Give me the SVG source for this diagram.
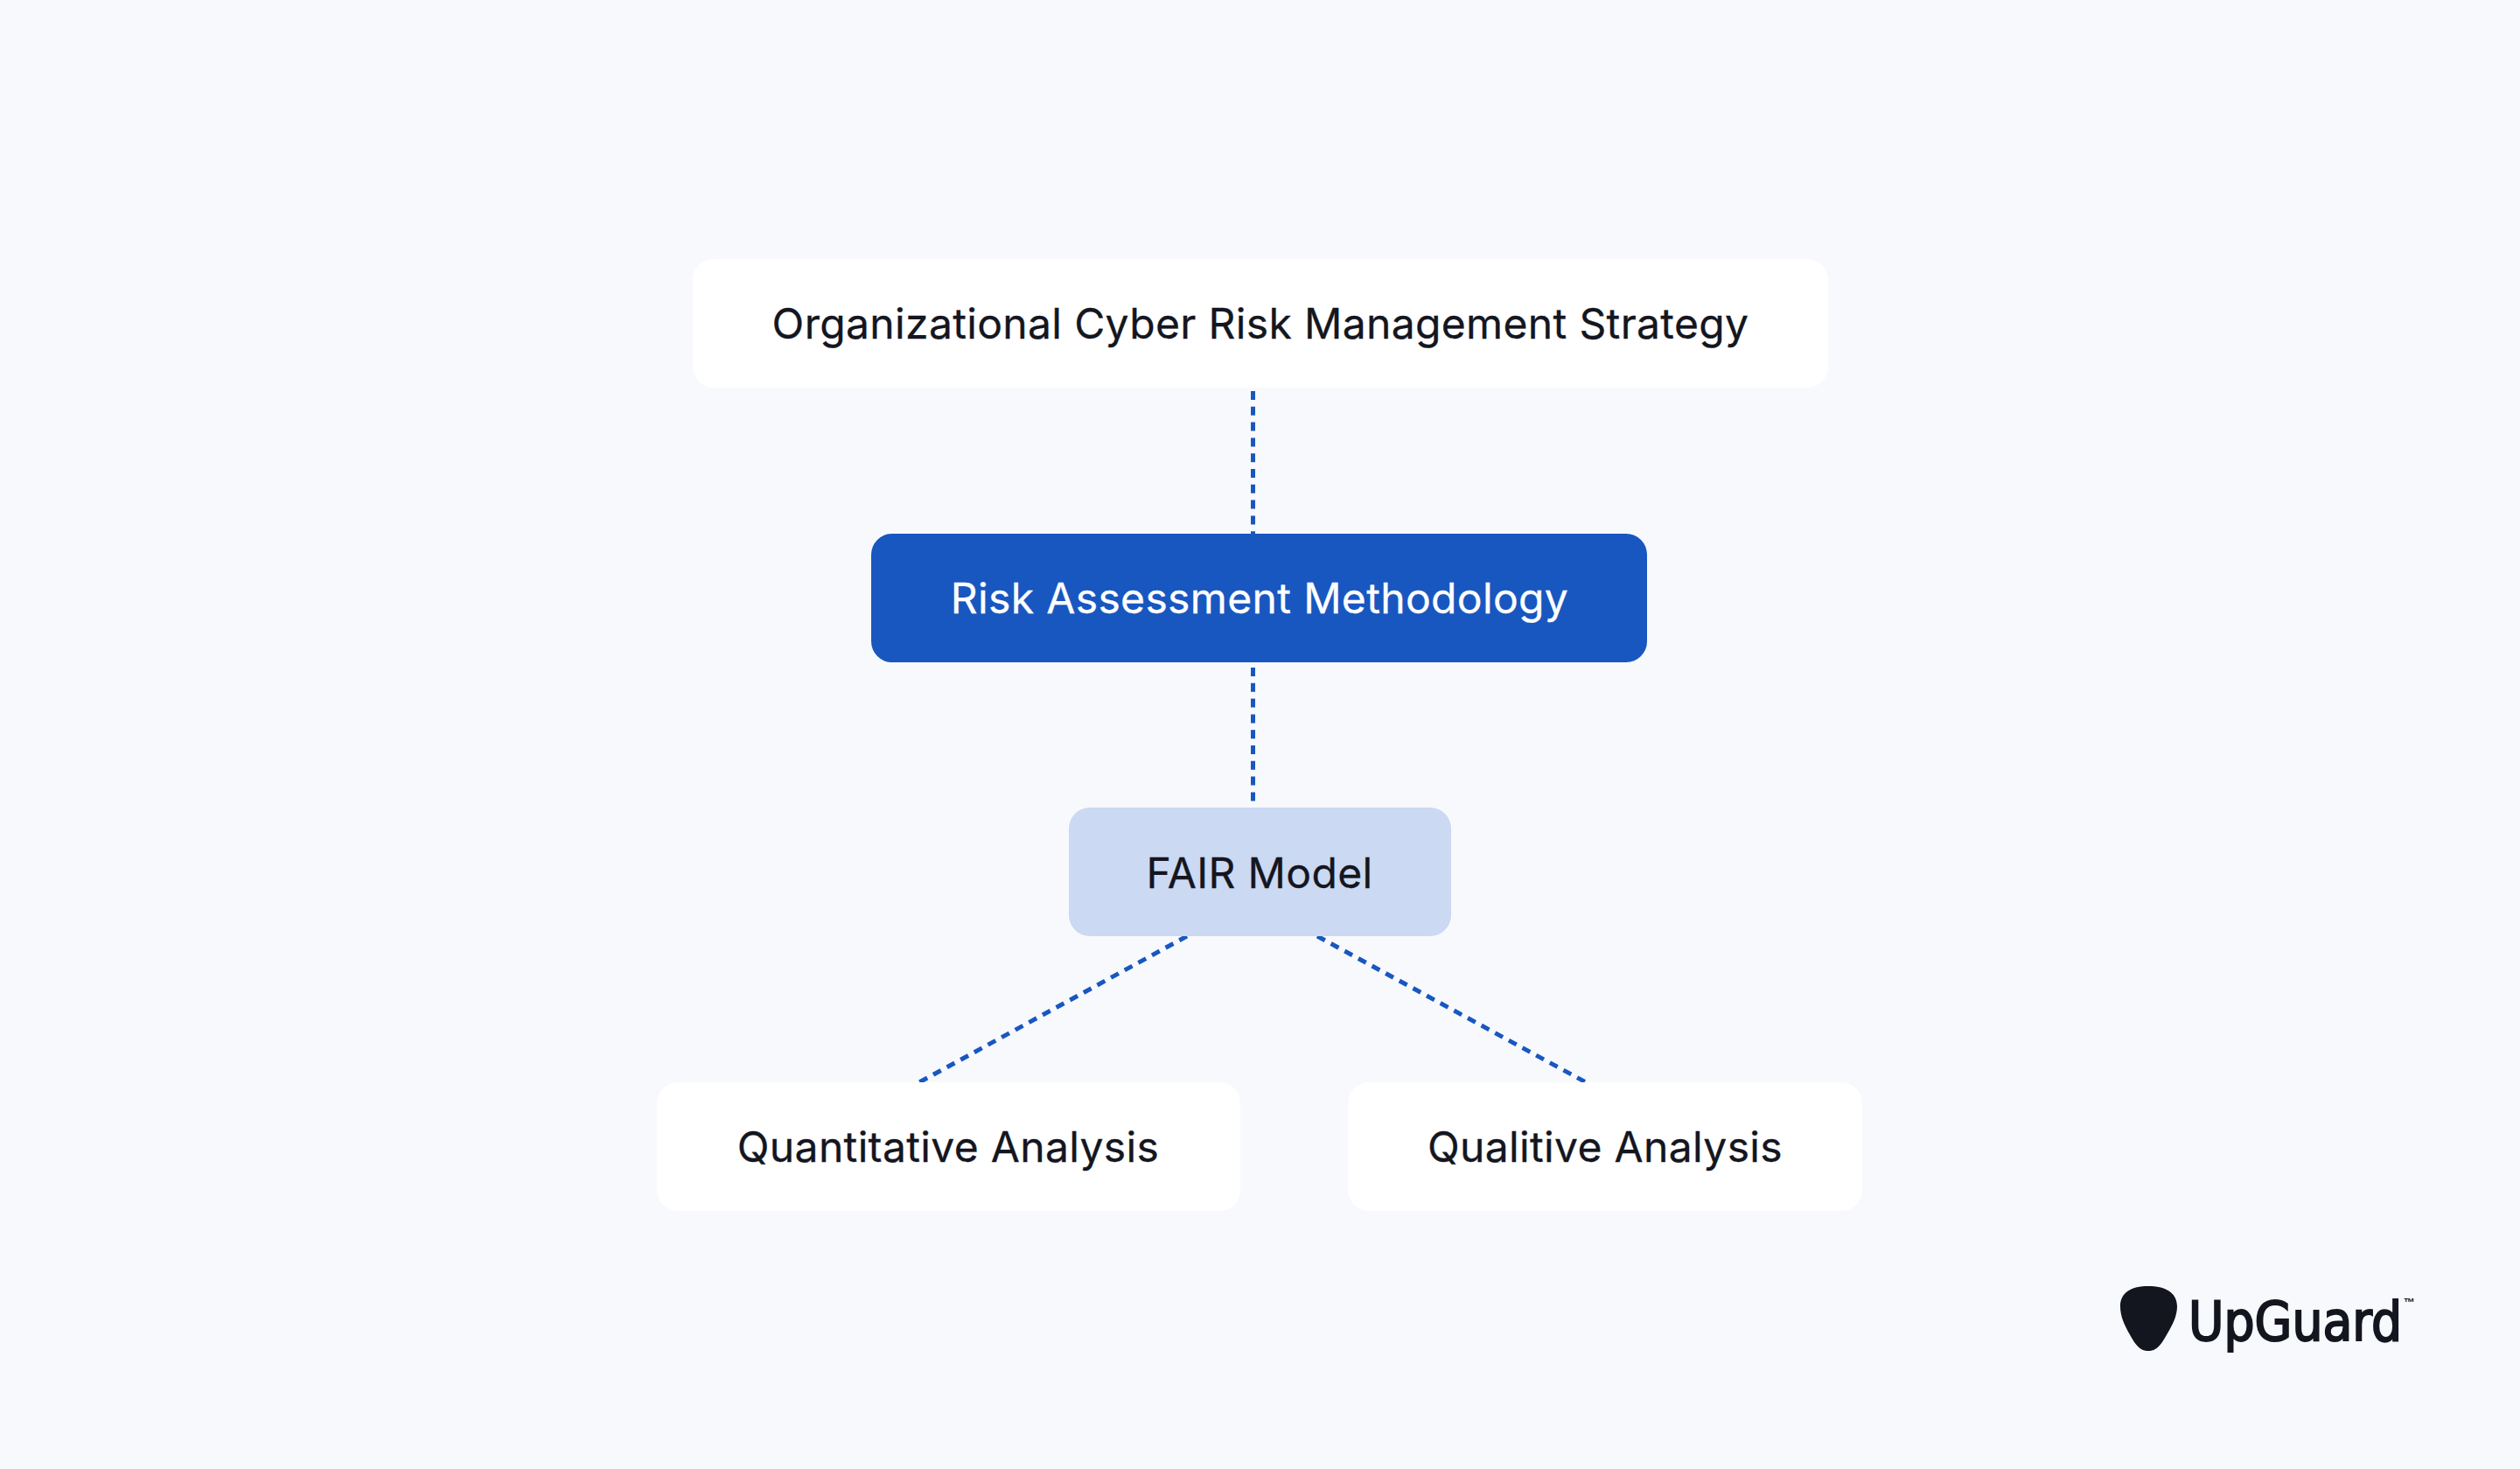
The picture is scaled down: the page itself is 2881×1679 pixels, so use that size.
<svg xmlns="http://www.w3.org/2000/svg" width="2881" height="1679" viewBox="0 0 2881 1679">
<style>
.t{font-family:Inter,"Noto Sans",sans-serif;font-size:48px;font-weight:400;letter-spacing:.35px;fill:#14161f;text-anchor:middle;stroke:#14161f;stroke-width:.3px}
.c{stroke:#1857c0;stroke-width:5;stroke-dasharray:10 7.8;fill:none}
</style>
<rect width="2881" height="1679" fill="#f8f9fd"/>
<g id="connectors">
<line class="c" x1="1432.5" y1="447" x2="1432.5" y2="610"/>
<line class="c" x1="1432.5" y1="763" x2="1432.5" y2="923"/>
<line class="c" x1="1357" y1="1070" x2="1051" y2="1237"/>
<line class="c" x1="1506" y1="1070" x2="1813" y2="1237"/>
</g>
<g id="n1"><rect x="792" y="296" width="1298" height="147" rx="24" fill="#fff"/><text class="t" x="1441" y="387">Organizational Cyber Risk Management Strategy</text></g>
<g id="n2"><rect x="996" y="610" width="887" height="147" rx="24" fill="#1857c0"/><text class="t" x="1440" y="701" style="fill:#fff;stroke:#fff">Risk Assessment Methodology</text></g>
<g id="n3"><rect x="1222" y="923" width="437" height="147" rx="24" fill="#cbd9f2"/><text class="t" x="1440" y="1015">FAIR Model</text></g>
<g id="n4"><rect x="751" y="1237" width="667" height="147" rx="24" fill="#fff"/><text class="t" x="1084" y="1328">Quantitative Analysis</text></g>
<g id="n5"><rect x="1541" y="1237" width="588" height="147" rx="24" fill="#fff"/><text class="t" x="1835" y="1328">Qualitive Analysis</text></g>
<g id="logo">
<path d="M2456 1470C2475 1470 2489 1477 2489 1493C2489 1507 2481 1519 2472 1534C2466 1542 2462 1544 2456 1544C2450 1544 2446 1542 2440 1534C2431 1519 2424 1507 2424 1493C2424 1477 2437 1470 2456 1470Z" fill="#14161f"/>
<text x="2502" y="1532" font-family="'DejaVu Sans Condensed','DejaVu Sans',sans-serif" font-size="62" fill="#14161f" stroke="#14161f" stroke-width="2" textLength="244" lengthAdjust="spacingAndGlyphs">UpGuard</text>
<text x="2748" y="1493" font-family="'Liberation Sans',sans-serif" font-size="13" font-weight="700" fill="#14161f">™</text>
</g>
</svg>
